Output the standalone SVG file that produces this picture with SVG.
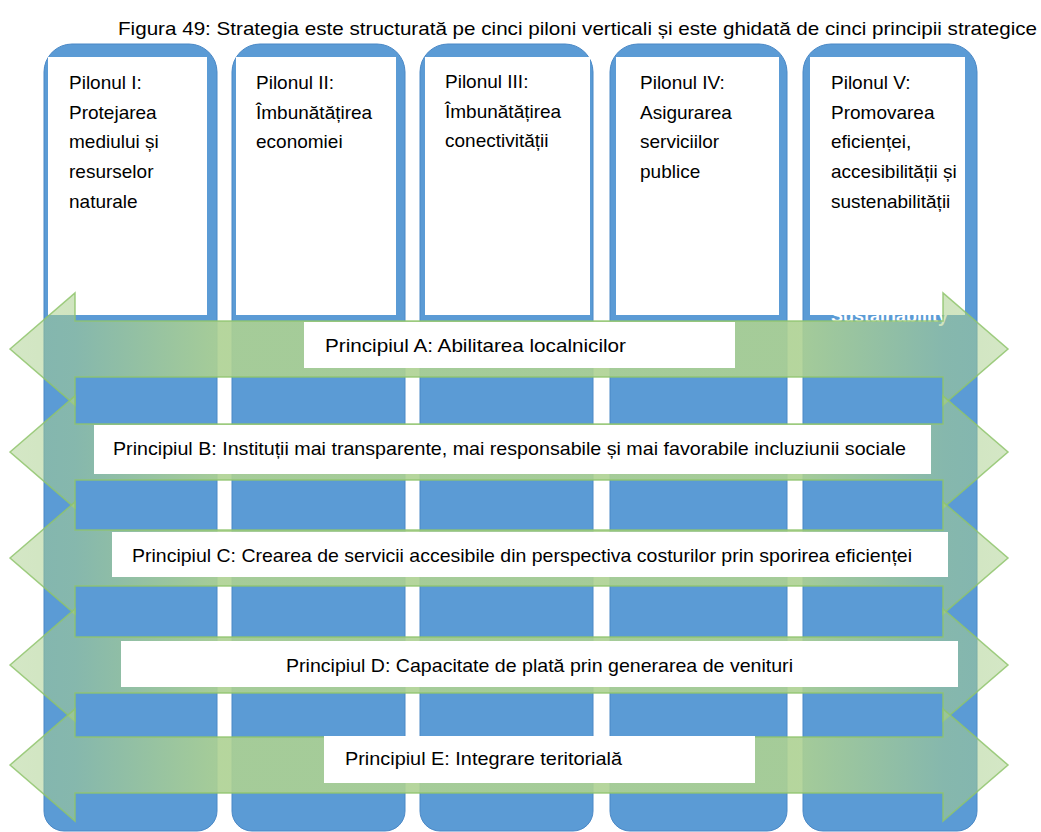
<svg xmlns="http://www.w3.org/2000/svg" width="1041" height="832" viewBox="0 0 1041 832">
<style>
  text { font-family: "Liberation Sans", Arial, sans-serif; fill: #000; }
  .t { font-size: 19px; }
  .title { font-size: 19px; }
  .pillar { fill: #5b9bd5; stroke: #4a88c6; stroke-width: 1; }
  .pbox { fill: #ffffff; }
  .arrow { fill: url(#arrowGrad); stroke: #8fc46c; stroke-opacity: 0.85; stroke-width: 1.5; stroke-linejoin: miter; }
  .lbox { fill: #ffffff; }
  .ghost { font-size: 18px; font-weight: bold; fill: #ffffff; }
</style>
<defs>
  <linearGradient id="arrowGrad" gradientUnits="userSpaceOnUse" x1="10" y1="0" x2="1008" y2="0">
    <stop offset="0" stop-color="#a9cf8c" stop-opacity="0.5"/>
    <stop offset="0.065" stop-color="#a9cf8c" stop-opacity="0.55"/>
    <stop offset="0.205" stop-color="#add192" stop-opacity="0.9"/>
    <stop offset="0.79" stop-color="#add192" stop-opacity="0.9"/>
    <stop offset="0.935" stop-color="#a9cf8c" stop-opacity="0.55"/>
    <stop offset="1" stop-color="#a9cf8c" stop-opacity="0.5"/>
  </linearGradient>
  <clipPath id="ghostClip"><rect x="805" y="315" width="170" height="15"/></clipPath>
</defs>

<text class="title" x="118" y="35" textLength="919" lengthAdjust="spacingAndGlyphs">Figura 49: Strategia este structurată pe cinci piloni verticali și este ghidată de cinci principii strategice</text>

<g id="pillar-1">
  <path class="pillar" d="M44,811 V72 A28,28 0 0 1 72,44 H189 A28,28 0 0 1 217,72 V811 A20,20 0 0 1 197,831 H64 A20,20 0 0 1 44,811 Z"/>
  <rect class="pbox" x="48" y="57" width="159" height="258"/>
  <text class="t" x="69" y="89">Pilonul I:</text>
  <text class="t" x="69" y="119">Protejarea</text>
  <text class="t" x="69" y="148">mediului și</text>
  <text class="t" x="69" y="178">resurselor</text>
  <text class="t" x="69" y="208">naturale</text>
</g>

<g id="pillar-2">
  <path class="pillar" d="M232,811 V72 A28,28 0 0 1 260,44 H377 A28,28 0 0 1 405,72 V811 A20,20 0 0 1 385,831 H252 A20,20 0 0 1 232,811 Z"/>
  <rect class="pbox" x="236" y="57" width="160" height="258"/>
  <text class="t" x="256" y="89">Pilonul II:</text>
  <text class="t" x="256" y="119">Îmbunătățirea</text>
  <text class="t" x="256" y="148">economiei</text>
</g>

<g id="pillar-3">
  <path class="pillar" d="M420,811 V72 A28,28 0 0 1 448,44 H565 A28,28 0 0 1 593,72 V811 A20,20 0 0 1 573,831 H440 A20,20 0 0 1 420,811 Z"/>
  <rect class="pbox" x="425" y="57" width="165" height="258"/>
  <text class="t" x="445" y="88">Pilonul III:</text>
  <text class="t" x="445" y="118">Îmbunătățirea</text>
  <text class="t" x="445" y="147">conectivității</text>
</g>

<g id="pillar-4">
  <path class="pillar" d="M610,811 V72 A28,28 0 0 1 638,44 H759 A28,28 0 0 1 787,72 V811 A20,20 0 0 1 767,831 H630 A20,20 0 0 1 610,811 Z"/>
  <rect class="pbox" x="616" y="57" width="163" height="258"/>
  <text class="t" x="640" y="89">Pilonul IV:</text>
  <text class="t" x="640" y="119">Asigurarea</text>
  <text class="t" x="640" y="148">serviciilor</text>
  <text class="t" x="640" y="178">publice</text>
</g>

<g id="pillar-5">
  <path class="pillar" d="M803,811 V72 A28,28 0 0 1 831,44 H949 A28,28 0 0 1 977,72 V811 A20,20 0 0 1 957,831 H823 A20,20 0 0 1 803,811 Z"/>
  <text class="ghost" x="831" y="322" textLength="117" lengthAdjust="spacingAndGlyphs" clip-path="url(#ghostClip)">Sustainability</text>
  <rect class="pbox" x="810" y="57" width="155" height="258"/>
  <text class="t" x="831" y="89">Pilonul V:</text>
  <text class="t" x="831" y="119">Promovarea</text>
  <text class="t" x="831" y="148">eficienței,</text>
  <text class="t" x="831" y="178">accesibilității și</text>
  <text class="t" x="831" y="208">sustenabilității</text>
</g>

<g id="connectors">
  <g id="principle-a">
    <polygon class="arrow" points="10,349 75,293 75,321 943,321 943,293 1008,349 943,405 943,377 75,377 75,405"/>
    <rect class="lbox" x="304" y="322" width="431" height="46"/>
    <text class="t" x="325" y="352" textLength="301" lengthAdjust="spacingAndGlyphs">Principiul A: Abilitarea localnicilor</text>
  </g>
  <g id="principle-b">
    <polygon class="arrow" points="10,452 75,396 75,424 943,424 943,396 1008,452 943,508 943,480 75,480 75,508"/>
    <rect class="lbox" x="94" y="425" width="837" height="49"/>
    <text class="t" x="113" y="455" textLength="793" lengthAdjust="spacingAndGlyphs">Principiul B: Instituții mai transparente, mai responsabile și mai favorabile incluziunii sociale</text>
  </g>
  <g id="principle-c">
    <polygon class="arrow" points="10,558 75,502 75,530 943,530 943,502 1008,558 943,614 943,586 75,586 75,614"/>
    <rect class="lbox" x="112" y="532" width="836" height="45"/>
    <text class="t" x="132" y="562" textLength="780" lengthAdjust="spacingAndGlyphs">Principiul C: Crearea de servicii accesibile din perspectiva costurilor prin sporirea eficienței</text>
  </g>
  <g id="principle-d">
    <polygon class="arrow" points="10,665 75,609 75,637 943,637 943,609 1008,665 943,721 943,693 75,693 75,721"/>
    <rect class="lbox" x="121" y="641" width="837" height="46"/>
    <text class="t" x="286" y="672" textLength="507" lengthAdjust="spacingAndGlyphs">Principiul D: Capacitate de plată prin generarea de venituri</text>
  </g>
  <g id="principle-e">
    <polygon class="arrow" points="10,765 75,709 75,737 943,737 943,709 1008,765 943,821 943,793 75,793 75,821"/>
    <rect class="lbox" x="324" y="736" width="431" height="47"/>
    <text class="t" x="345" y="765" textLength="277" lengthAdjust="spacingAndGlyphs">Principiul E: Integrare teritorială</text>
  </g>
</g>
</svg>
